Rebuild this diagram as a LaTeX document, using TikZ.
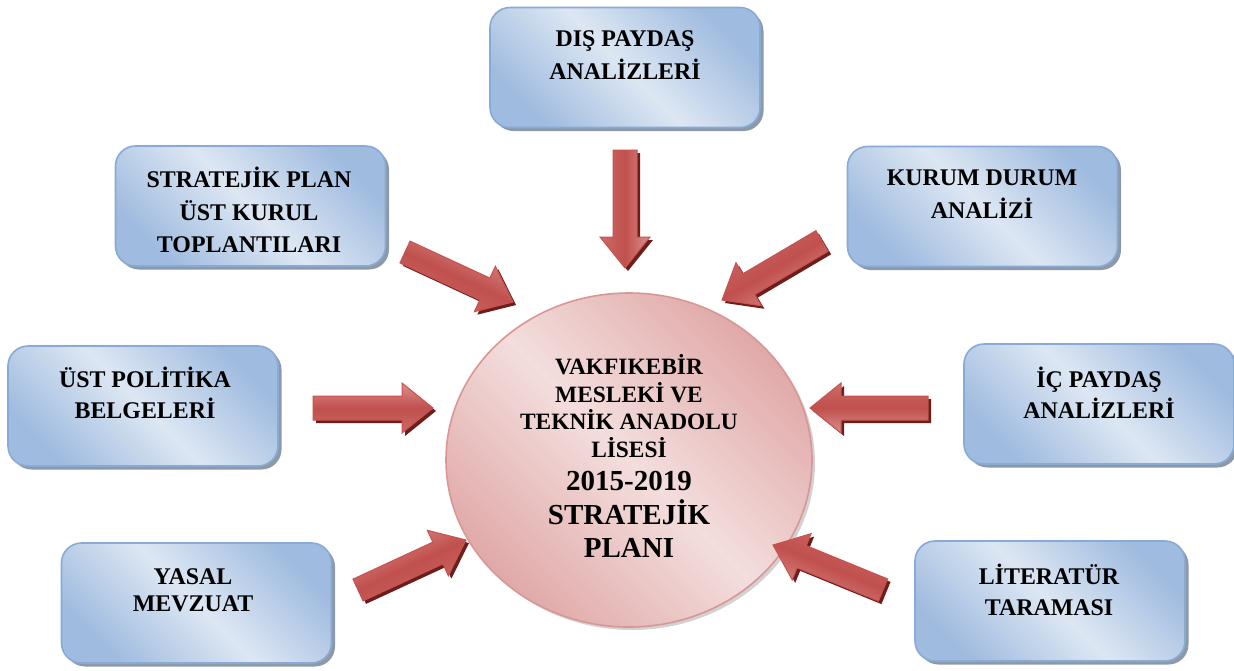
\documentclass[tikz,border=0pt]{standalone}
\usepackage{fontspec}
\setmainfont{Liberation Serif}
\usetikzlibrary{calc,shapes.geometric,shadows}
\definecolor{bxL}{HTML}{DDE7F3}
\definecolor{bxB}{HTML}{9FBBDF}
\definecolor{bxE}{HTML}{88AAD6}
\definecolor{bxS}{HTML}{8E99A8}
\definecolor{ciL}{HTML}{F3DEDD}
\definecolor{ciD}{HTML}{E0A9A8}
\definecolor{ciE}{HTML}{D99694}
\definecolor{arL}{HTML}{DC908E}
\definecolor{arD}{HTML}{C0504D}
\definecolor{arB}{HTML}{CC6A67}
\definecolor{arE}{HTML}{C8524F}
\definecolor{arS}{HTML}{6B1E1C}
\tikzset{
  box/.style={rectangle, rounded corners=20pt, minimum width=270pt, minimum height=120pt,
    inner sep=0pt, draw=bxE, line width=1.6pt, top color=bxB, bottom color=bxB,
    middle color=bxL, shading angle=-45,
    drop shadow={shadow xshift=3.5pt, shadow yshift=-3.5pt, fill=bxS, opacity=1}},
  lbl/.style={align=center, inner sep=0pt, font=\bfseries\fontsize{23.9}{#1}\selectfont},
  hub/.style={ellipse, minimum width=366pt, minimum height=334pt, inner sep=0pt,
    draw=ciE, line width=1.6pt, top color=ciD, bottom color=ciD, middle color=ciL,
    shading angle=-45,
    drop shadow={shadow xshift=3pt, shadow yshift=-3pt, fill=gray, opacity=0.35}},
  arrowbody/.style={draw=arE, line width=1pt, line join=miter, top color=arL,
    bottom color=arB, middle color=arD},
}
\newcommand{\arpath}[2]{($(#1)!12pt!90:(#2)$) -- ($(#2)!31pt!(#1)!12pt!90:(#2)$)
  -- ($(#2)!31pt!(#1)!25pt!90:(#2)$) -- (#2) -- ($(#2)!31pt!(#1)!25pt!-90:(#2)$)
  -- ($(#2)!31pt!(#1)!12pt!-90:(#2)$) -- ($(#1)!12pt!-90:(#2)$) -- cycle}
\newcommand{\blockarrow}[2]{%
  \pgfmathanglebetweenpoints{\pgfpointanchor{#1}{center}}{\pgfpointanchor{#2}{center}}%
  \edef\arang{\pgfmathresult}%
  \fill[arS, transform canvas={xshift=3pt,yshift=-3pt}] \arpath{#1}{#2};
  \shadedraw[arrowbody, shading angle=\arang] \arpath{#1}{#2};
}
\begin{document}
\begin{tikzpicture}[x=1pt,y=-1pt]
\useasboundingbox[fill=white] (0,0) rectangle (1234,670);

% boxes
\node[box] (b1) at (625,67.5) {};
\node[box] (b2) at (250.5,206) {};
\node[box] (b3) at (982.5,206.5) {};
\node[box] (b4) at (143,406) {};
\node[box] (b5) at (1099,404) {};
\node[box] (b6) at (196.5,603) {};
\node[box] (b7) at (1050,601) {};

\node[lbl=33] (t1) at (625,55) {DIŞ PAYDAŞ\\ANALİZLERİ};
\node[lbl=32.5] (t2) at (249,210) {STRATEJİK PLAN\\ÜST KURUL\\TOPLANTILARI};
\node[lbl=33] (t3) at (982,194) {KURUM DURUM\\ANALİZİ};
\node[lbl=31] (t4) at (145,393) {ÜST POLİTİKA\\BELGELERİ};
\node[lbl=31] (t5) at (1099,393) {İÇ PAYDAŞ\\ANALİZLERİ};
\node[lbl=27] (t6) at (193,590) {YASAL\\MEVZUAT};
\node[lbl=31] (t7) at (1049,590) {LİTERATÜR\\TARAMASI};

% hub
\node[hub] (c) at (629,460) {};
\node[align=center, inner sep=0pt, font=\bfseries\fontsize{23.4}{27.5}\selectfont] (ct) at (629,456)
  {VAKFIKEBİR\\MESLEKİ VE\\TEKNİK ANADOLU\\LİSESİ\\[6pt]
   {\fontsize{29}{33.5}\selectfont 2015-2019}\\[6pt]
   {\fontsize{29}{33.5}\selectfont STRATEJİK}\\[6pt]
   {\fontsize{29}{33.5}\selectfont PLANI}};

% arrow ends
\coordinate (a1t) at (625,150); \coordinate (a1h) at (625,268);
\coordinate (a2t) at (405,252); \coordinate (a2h) at (513,302);
\coordinate (a3t) at (822,241); \coordinate (a3h) at (722,300);
\coordinate (a4t) at (313,408); \coordinate (a4h) at (433,408);
\coordinate (a5t) at (928,408); \coordinate (a5h) at (810,408);
\coordinate (a6t) at (358,590); \coordinate (a6h) at (466,540);
\coordinate (a7t) at (883,590); \coordinate (a7h) at (773,545);

\blockarrow{a1t}{a1h}
\blockarrow{a2t}{a2h}
\blockarrow{a3t}{a3h}
\blockarrow{a4t}{a4h}
\blockarrow{a5t}{a5h}
\blockarrow{a6t}{a6h}
\blockarrow{a7t}{a7h}
\end{tikzpicture}
\end{document}
